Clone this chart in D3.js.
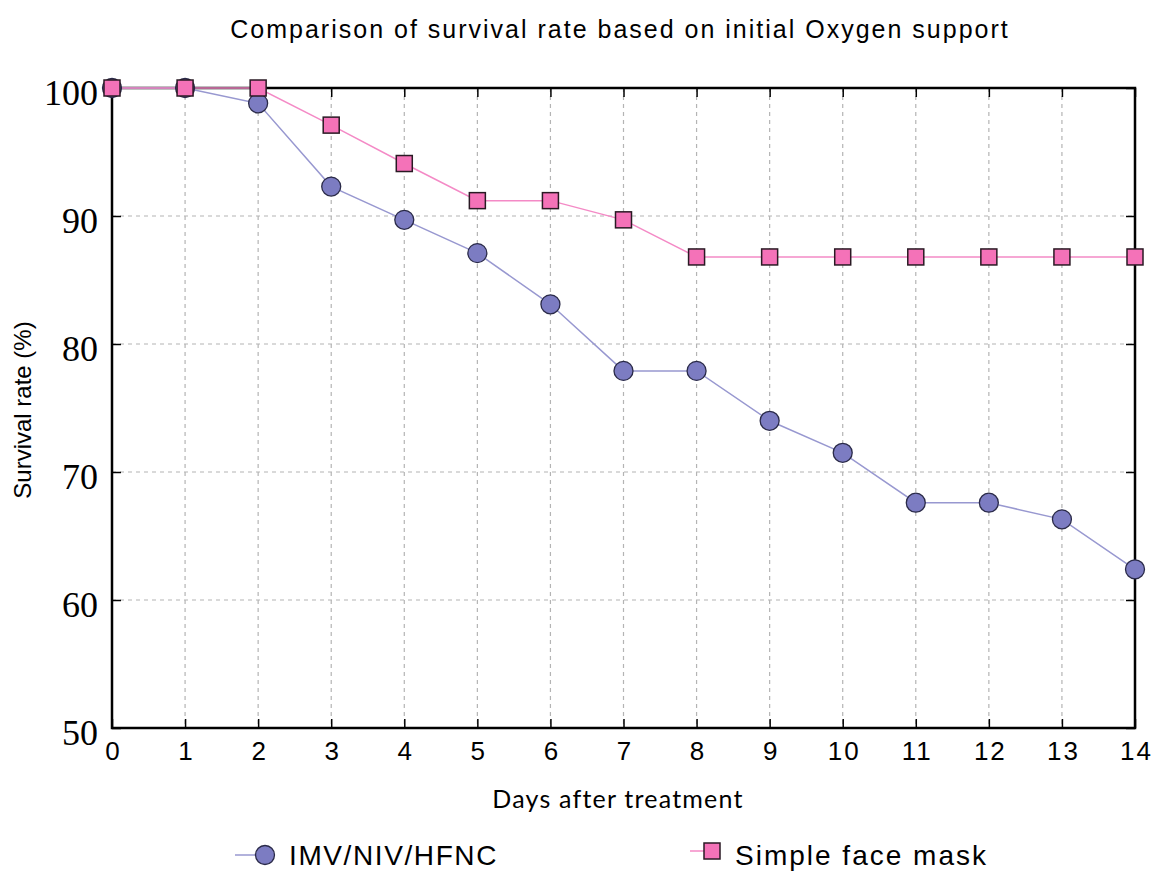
<html>
  <head>
    <script src="https://cdn.jsdelivr.net/npm/d3@7"></script>
    <style>
      body { margin: 0; background: #fff; }
    </style>
  </head>
  <body>
    <svg id="container" width="1153" height="873"></svg>
  </body>
  <script>
    const days = [0, 1, 2, 3, 4, 5, 6, 7, 8, 9, 10, 11, 12, 13, 14];
    const imvValues = [100, 100, 98.8, 92.3, 89.7, 87.1, 83.1, 77.9, 77.9, 74.0, 71.5, 67.6, 67.6, 66.3, 62.4];
    const maskValues = [100, 100, 100, 97.1, 94.1, 91.2, 91.2, 89.7, 86.8, 86.8, 86.8, 86.8, 86.8, 86.8, 86.8];
    const yTicks = [50, 60, 70, 80, 90, 100];
    const seriesNames = ["IMV/NIV/HFNC", "Simple face mask"];

    const svg = d3.select("#container");
    const plotLeft = 112, plotTop = 88, plotRight = 1135, plotBottom = 728;

    const x = d3.scaleLinear().domain([0, 14]).range([plotLeft, plotRight]);
    const y = d3.scaleLinear().domain([50, 100]).range([plotBottom, plotTop]);

    // title
    svg.append("text")
      .attr("x", 620).attr("y", 38)
      .attr("text-anchor", "middle")
      .style("font-family", "Liberation Sans, Arial")
      .style("font-size", "25px")
      .style("letter-spacing", "2px")
      .text("Comparison of survival rate based on initial Oxygen support");

    // grid
    const grid = svg.append("g").attr("stroke", "#b4b4b4").attr("stroke-dasharray", "4,4").attr("stroke-width", 1.2);
    grid.selectAll(".gx").data(days.slice(1, -1)).enter().append("line")
      .attr("x1", d => x(d)).attr("x2", d => x(d)).attr("y1", plotTop).attr("y2", plotBottom);
    grid.selectAll(".gy").data(yTicks.slice(1, -1)).enter().append("line")
      .attr("y1", d => y(d)).attr("y2", d => y(d)).attr("x1", plotLeft).attr("x2", plotRight);

    // axes (ticks inside)
    const noDomain = g => g.select(".domain").remove();
    svg.append("g").attr("transform", `translate(0,${plotBottom})`)
      .call(d3.axisBottom(x).tickValues(days).tickSizeInner(-9).tickSizeOuter(0).tickPadding(14))
      .call(noDomain)
      .call(g => g.selectAll("line").attr("stroke", "#000").attr("stroke-width", 1.5))
      .call(g => g.selectAll("text").attr("dx", "1px").style("font-family", "Liberation Sans, Arial")
        .style("font-size", "26px").style("letter-spacing", "2px").attr("fill", "#000"));
    svg.append("g").attr("transform", `translate(0,${plotTop})`)
      .call(d3.axisTop(x).tickValues(days).tickSizeInner(-9).tickSizeOuter(0).tickFormat(""))
      .call(noDomain)
      .call(g => g.selectAll("line").attr("stroke", "#000").attr("stroke-width", 1.5));
    svg.append("g").attr("transform", `translate(${plotLeft},0)`)
      .call(d3.axisLeft(y).tickValues(yTicks).tickSizeInner(-9).tickSizeOuter(0).tickPadding(14))
      .call(noDomain)
      .call(g => g.selectAll("line").attr("stroke", "#000").attr("stroke-width", 1.5))
      .call(g => g.selectAll("text").attr("dy", "16px").attr("x", -14)
        .style("font-family", "Liberation Serif, Times New Roman").style("font-size", "36px").attr("fill", "#000"));
    svg.append("g").attr("transform", `translate(${plotRight},0)`)
      .call(d3.axisRight(y).tickValues(yTicks).tickSizeInner(-9).tickSizeOuter(0).tickFormat(""))
      .call(noDomain)
      .call(g => g.selectAll("line").attr("stroke", "#000").attr("stroke-width", 1.5));

    svg.append("rect")
      .attr("x", plotLeft).attr("y", plotTop).attr("width", plotRight - plotLeft).attr("height", plotBottom - plotTop)
      .attr("fill", "none").attr("stroke", "#000").attr("stroke-width", 2.5);

    // axis titles
    svg.append("text")
      .attr("transform", "translate(31,410) rotate(-90)")
      .attr("text-anchor", "middle")
      .style("font-family", "Liberation Sans, Arial")
      .style("font-size", "24px")
      .text("Survival rate (%)");
    svg.append("text")
      .attr("x", 618).attr("y", 808)
      .attr("text-anchor", "middle")
      .style("font-family", "Lato, Open Sans")
      .style("font-size", "25px")
      .style("letter-spacing", "1.2px")
      .text("Days after treatment");

    const line = d3.line().x((d, i) => x(days[i])).y(d => y(d));

    svg.append("path").datum(imvValues).attr("d", line)
      .attr("fill", "none").attr("stroke", "#9898d0").attr("stroke-width", 1.5);
    svg.append("path").datum(maskValues).attr("d", line)
      .attr("fill", "none").attr("stroke", "#f48ac6").attr("stroke-width", 1.5);

    svg.selectAll(".circ").data(imvValues).enter().append("circle")
      .attr("cx", (d, i) => x(days[i])).attr("cy", d => y(d)).attr("r", 9.5)
      .attr("fill", "#7c7cc2").attr("stroke", "#2a2a48").attr("stroke-width", 1.3);
    svg.selectAll(".sq").data(maskValues).enter().append("rect")
      .attr("x", (d, i) => x(days[i]) - 8).attr("y", d => y(d) - 8).attr("width", 16).attr("height", 16)
      .attr("fill", "#f472b8").attr("stroke", "#2a1a24").attr("stroke-width", 1.5);

    // legend
    const leg = svg.append("g");
    leg.append("line").attr("x1", 235).attr("x2", 262).attr("y1", 855).attr("y2", 855)
      .attr("stroke", "#9898d0").attr("stroke-width", 1.5);
    leg.append("circle").attr("cx", 265).attr("cy", 855).attr("r", 9.5)
      .attr("fill", "#7c7cc2").attr("stroke", "#2a2a48").attr("stroke-width", 1.3);
    leg.append("text").attr("x", 289).attr("y", 865)
      .style("font-family", "Liberation Sans, Arial").style("font-size", "28px").style("letter-spacing", "1.6px")
      .text(seriesNames[0]);
    leg.append("line").attr("x1", 690).attr("x2", 704).attr("y1", 851).attr("y2", 851)
      .attr("stroke", "#f48ac6").attr("stroke-width", 1.5);
    leg.append("rect").attr("x", 704).attr("y", 843).attr("width", 16).attr("height", 16)
      .attr("fill", "#f472b8").attr("stroke", "#2a1a24").attr("stroke-width", 1.5);
    leg.append("text").attr("x", 735).attr("y", 865)
      .style("font-family", "Liberation Sans, Arial").style("font-size", "28px").style("letter-spacing", "2px")
      .text(seriesNames[1]);
  </script>
</html>
